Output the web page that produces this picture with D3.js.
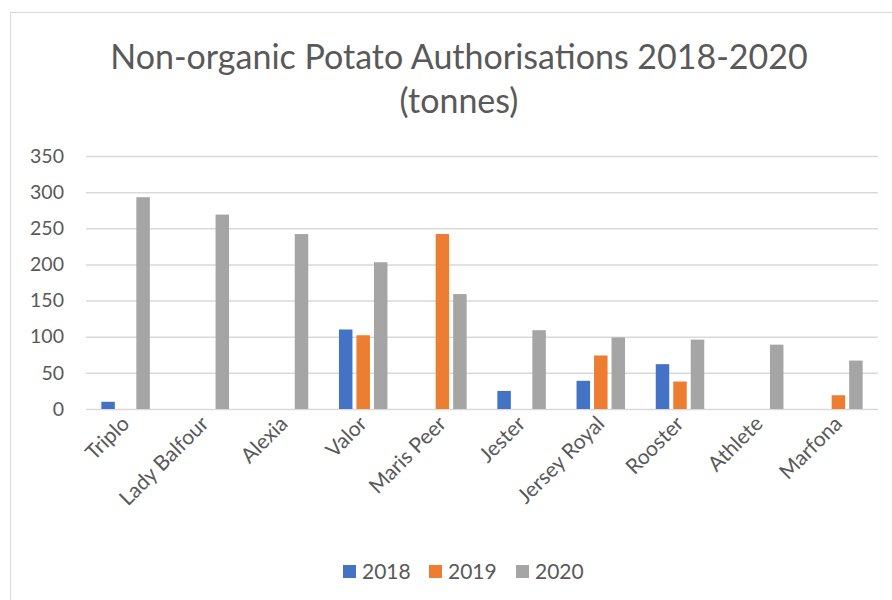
<!DOCTYPE html>
<html>
<head>
<meta charset="utf-8">
<script src="https://cdn.jsdelivr.net/npm/d3@7/dist/d3.min.js"></script>
<style>
  html, body { margin: 0; padding: 0; background: #fff; }
  svg { display: block; }
</style>
</head>
<body>
<svg id="chart" width="892" height="600"></svg>
<script>
const categories = ["Triplo", "Lady Balfour", "Alexia", "Valor", "Maris Peer", "Jester", "Jersey Royal", "Rooster", "Athlete", "Marfona"];
const seriesNames = ["2018", "2019", "2020"];
const values2018 = [10, 0, 0, 110, 0, 25, 39, 62, 0, 0];
const values2019 = [0, 0, 0, 102, 242, 0, 74, 38, 0, 19];
const values2020 = [293, 269, 242, 203, 159, 109, 99, 96, 89, 67];
const yTicks = [0, 50, 100, 150, 200, 250, 300, 350];
const colors = ["#4472C4", "#ED7D31", "#A5A5A5"];
const titleLines = ["Non-organic Potato Authorisations 2018-2020", "(tonnes)"];

const seriesValues = [values2018, values2019, values2020];
const data = categories.map((c, i) => ({
  cat: c,
  vals: seriesNames.map((s, j) => ({ s, v: seriesValues[j][i], color: colors[j] }))
}));

const svg = d3.select("#chart");
const font = "Lato, 'Open Sans', sans-serif";
const textColor = "#595959";

// chart frame
svg.append("rect").attr("x", 10.5).attr("y", 12.5).attr("width", 900).attr("height", 700)
  .attr("fill", "#fff").attr("stroke", "#d9d9d9").attr("stroke-width", 1);

// title
svg.append("g").selectAll("text").data(titleLines).join("text")
  .attr("x", 459).attr("y", (d, i) => 69 + i * 44)
  .attr("text-anchor", "middle")
  .attr("font-family", font).attr("font-size", 34).attr("fill", textColor)
  .text(d => d);

const plot = { left: 86, right: 878, top: 156, bottom: 409 };

const x0 = d3.scaleBand().domain(categories).range([plot.left, plot.right]);
const x1 = d3.scaleBand().domain(seriesNames).range([0, 52.5]).paddingInner(4 / 17.5).paddingOuter(2 / 17.5);
const y = d3.scaleLinear().domain([0, 350]).range([plot.bottom, plot.top]);

// gridlines
const yAxis = d3.axisLeft(y).tickValues(yTicks).tickSize(-(plot.right - plot.left)).tickPadding(22).tickFormat(d3.format("d"));
const gy = svg.append("g").attr("transform", `translate(${plot.left},0)`).call(yAxis);
gy.select(".domain").remove();
gy.selectAll(".tick line").attr("stroke", "#d9d9d9").attr("stroke-width", 1.5);
gy.selectAll(".tick text").attr("font-family", font).attr("font-size", 19.5).attr("fill", textColor);

// bars
const groups = svg.append("g").selectAll("g").data(data).join("g")
  .attr("transform", d => `translate(${x0(d.cat) + x0.bandwidth() / 2 - 26.25},0)`);
groups.selectAll("rect").data(d => d.vals.filter(v => v.v > 0)).join("rect")
  .attr("x", d => x1(d.s))
  .attr("width", x1.bandwidth())
  .attr("y", d => y(d.v))
  .attr("height", d => y(0) - y(d.v))
  .attr("fill", d => d.color);

// x axis labels
const xAxis = d3.axisBottom(x0).tickSize(0).tickPadding(0);
const gx = svg.append("g").attr("transform", `translate(0,${plot.bottom})`).call(xAxis);
gx.select(".domain").remove();
gx.selectAll(".tick text")
  .attr("font-family", font).attr("font-size", 21).attr("fill", textColor)
  .attr("text-anchor", "end")
  .attr("dy", 0)
  .attr("transform", "translate(5,16) rotate(-45)");

// legend
const legendX = [343, 429, 516];
const lg = svg.append("g").selectAll("g").data(seriesNames).join("g")
  .attr("transform", (d, i) => `translate(${legendX[i]},565)`);
lg.append("rect").attr("width", 13).attr("height", 13).attr("fill", (d, i) => colors[i]);
lg.append("text").attr("x", 19).attr("y", 14).attr("font-family", font).attr("font-size", 21)
  .attr("fill", textColor).text(d => d);
</script>
</body>
</html>
